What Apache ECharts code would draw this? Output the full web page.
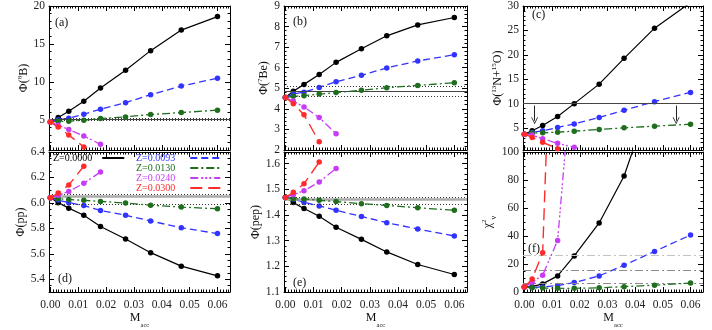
<!DOCTYPE html>
<html><head><meta charset="utf-8">
<script src="https://cdn.jsdelivr.net/npm/echarts@6/dist/echarts.min.js"></script>
<style>html,body{margin:0;padding:0;background:#fff}#c{width:712px;height:330px}</style>
</head><body><div id="c"></div>
<script>
// ---------------- data ----------------
const xValues = [0, 0.0028, 0.0066, 0.012, 0.018, 0.027, 0.036, 0.047, 0.06];
const seriesNames = ['Z=0.0000', 'Z=0.0093', 'Z=0.0130', 'Z=0.0240', 'Z=0.0300'];
const xTickLabels = [0, 0.01, 0.02, 0.03, 0.04, 0.05, 0.06];

// (a) Phi(8B)
const a_Z0000 = [4.7, 5.29, 6.11, 7.42, 9.17, 11.53, 14.11, 16.82, 18.6];
const a_Z0093 = [4.7, 4.98, 5.2, 5.72, 6.38, 7.25, 8.3, 9.43, 10.48];
const a_Z0130 = [4.7, 4.78, 4.8, 4.93, 5.16, 5.37, 5.68, 5.94, 6.25];
const a_Z0240 = [4.7, 4.28, 3.72, 2.84, 1.75];
const a_Z0300 = [4.7, 4.02, 2.97, 1.4];
// (b) Phi(7Be)
const b_Z0000 = [4.55, 4.86, 5.19, 5.67, 6.26, 6.92, 7.55, 8.08, 8.44];
const b_Z0093 = [4.55, 4.72, 4.81, 5.04, 5.32, 5.63, 5.99, 6.33, 6.63];
const b_Z0130 = [4.55, 4.61, 4.64, 4.72, 4.79, 4.9, 5.03, 5.14, 5.27];
const b_Z0240 = [4.55, 4.38, 4.09, 3.58, 2.79];
const b_Z0300 = [4.55, 4.25, 3.71, 2.4];
// (c) Phi(13N+15O)
const c_Z0000 = [3.75, 4.43, 5.52, 7.35, 10.0, 13.99, 19.28, 25.46, 30.7];
const c_Z0093 = [3.75, 4.1, 4.43, 5.12, 5.85, 7.15, 8.64, 10.41, 12.3];
const c_Z0130 = [3.75, 3.96, 4.02, 4.16, 4.36, 4.71, 5.04, 5.38, 5.79];
const c_Z0240 = [3.75, 3.55, 2.8, 1.86, 1.05];
const c_Z0300 = [3.75, 3.08, 2.07, 0.76];
// (d) Phi(pp)
const d_Z0000 = [6.04, 6.002, 5.959, 5.903, 5.814, 5.716, 5.609, 5.503, 5.427];
const d_Z0093 = [6.04, 6.022, 6.002, 5.979, 5.941, 5.903, 5.858, 5.805, 5.759];
const d_Z0130 = [6.04, 6.033, 6.027, 6.02, 6.012, 5.999, 5.982, 5.967, 5.954];
const d_Z0240 = [6.04, 6.06, 6.09, 6.154, 6.243];
const d_Z0300 = [6.04, 6.078, 6.141, 6.288];
// (e) Phi(pep)
const e_Z0000 = [1.468, 1.448, 1.425, 1.395, 1.352, 1.305, 1.256, 1.207, 1.168];
const e_Z0093 = [1.468, 1.462, 1.449, 1.435, 1.418, 1.394, 1.37, 1.345, 1.318];
const e_Z0130 = [1.468, 1.463, 1.462, 1.457, 1.452, 1.444, 1.437, 1.428, 1.418];
const e_Z0240 = [1.468, 1.479, 1.494, 1.528, 1.581];
const e_Z0300 = [1.468, 1.488, 1.521, 1.606];
// (f) chi2_nu
const f_Z0000 = [3.5, 3.8, 5.8, 11.5, 25.8, 49.3, 82.9, 146, 220];
const f_Z0093 = [3.5, 3.3, 3.6, 4.6, 6.7, 11.5, 19.1, 29, 40.7];
const f_Z0130 = [3.5, 3.0, 2.8, 2.7, 2.6, 3.0, 3.8, 4.9, 6.4];
const f_Z0240 = [3.5, 6.9, 12, 36.8, 177];
const f_Z0300 = [3.5, 9.2, 28, 330];

// reference levels
const a_ref = [5.05, 5.2, 4.9];
const b_ref = [4.84, 5.08, 4.6];
const c_ref = [10];
const c_arrowX = [0.0037, 0.0548];
const c_arrowY = [9.6, 6.5];
const d_ref = [6.05, 6.074, 5.99];
const e_ref = [1.456, 1.473, 1.438];
const f_ref = [26.2, 15.7, 6.0];

// y tick labels
const a_yTicks = [5, 10, 15, 20];
const b_yTicks = [2, 3, 4, 5, 6, 7, 8, 9];
const c_yTicks = [5, 10, 15, 20, 25, 30];
const d_yTicks = [5.4, 5.6, 5.8, 6.0, 6.2, 6.4];
const e_yTicks = [1.1, 1.2, 1.3, 1.4, 1.5, 1.6];
const f_yTicks = [0, 20, 40, 60, 80, 100];

// ---------------- styles ----------------
const SERIF = 'Liberation Serif';
const colors = ['#000000', '#3333ff', '#1e6e1e', '#c63cf5', '#ff2b2b'];
const dashes = ['solid', [7, 4], [8, 3, 2, 3], [8, 3, 2, 2, 2, 2, 2, 3], [12, 6]];
const widths = [1.2, 1.3, 1.3, 1.3, 1.4];

const X_MIN = -0.0005, X_MAX = 0.0645;

function rng(min, max, step) {
  const out = [];
  const n = Math.round((max - min) / step);
  for (let i = 0; i <= n; i++) out.push(+(min + i * step).toFixed(6));
  return out;
}
function minorOf(min, max, step, majors) {
  const start = Math.ceil(min / step - 1e-9) * step;
  return rng(start, max, step).filter(v => v >= min - 1e-9 && v <= max + 1e-9 && !majors.some(m => Math.abs(m - v) < step / 10));
}

const nameRich = {
  m: { fontFamily: SERIF, fontSize: 12, lineHeight: 14, color: '#111' },
  p: { fontFamily: SERIF, fontSize: 7, lineHeight: 7, verticalAlign: 'top', color: '#111' },
  b: { fontFamily: SERIF, fontSize: 8, lineHeight: 8, padding: [9, 0, 0, 0], verticalAlign: 'top', color: '#111' },
  s: { fontFamily: SERIF, fontSize: 6.5, lineHeight: 7, padding: [10, 0, 0, 0], verticalAlign: 'top', color: '#111' },
  mt: { fontFamily: SERIF, fontSize: 12, lineHeight: 12, verticalAlign: 'top', color: '#111' }
};

const panels = [
  { grid: { left: 49, top: 5, width: 181, height: 145 }, yMin: 1, yMax: 20, yTicks: a_yTicks, yMinor: 1, fmt: v => String(v),
    name: '{m|Φ(}{p|8}{m|B)}', nameGap: 17, data: [a_Z0000, a_Z0093, a_Z0130, a_Z0240, a_Z0300], letter: '(a)', lx: 55, ly: 17, bottom: false },
  { grid: { left: 284, top: 5, width: 183, height: 145 }, yMin: 2, yMax: 9, yTicks: b_yTicks, yMinor: 0.2, fmt: v => String(v),
    name: '{m|Φ(}{p|7}{m|Be)}', nameGap: 13, data: [b_Z0000, b_Z0093, b_Z0130, b_Z0240, b_Z0300], letter: '(b)', lx: 293, ly: 16, bottom: false },
  { grid: { left: 523, top: 5, width: 180, height: 145 }, yMin: 0.5, yMax: 30, yTicks: c_yTicks, yMinor: 1, fmt: v => String(v),
    name: '{m|Φ(}{p|13}{m|N+}{p|15}{m|O)}', nameGap: 18, data: [c_Z0000, c_Z0093, c_Z0130, c_Z0240, c_Z0300], letter: '(c)', lx: 532, ly: 9, bottom: false },
  { grid: { left: 49, top: 152, width: 181, height: 145 }, yMin: 5.3, yMax: 6.4, yTicks: d_yTicks, yMinor: 0.05, fmt: v => v.toFixed(1),
    name: '{m|Φ(pp)}', nameGap: 16, data: [d_Z0000, d_Z0093, d_Z0130, d_Z0240, d_Z0300], letter: '(d)', lx: 58, ly: 273, bottom: true },
  { grid: { left: 284, top: 152, width: 183, height: 145 }, yMin: 1.1, yMax: 1.645, yTicks: e_yTicks, yMinor: 0.02, fmt: v => v.toFixed(1),
    name: '{m|Φ(pep)}', nameGap: 21, data: [e_Z0000, e_Z0093, e_Z0130, e_Z0240, e_Z0300], letter: '(e)', lx: 293, ly: 277, bottom: true },
  { grid: { left: 523, top: 152, width: 180, height: 145 }, yMin: 0, yMax: 100, yTicks: f_yTicks, yMinor: 5, fmt: v => String(v),
    name: '{m|χ}{p|2}{b|ν}', nameGap: 22, data: [f_Z0000, f_Z0093, f_Z0130, f_Z0240, f_Z0300], letter: '(f)', lx: 528, ly: 243, bottom: true }
];

const tickLine = { color: '#000', width: 1 };
const labelStyle = { fontFamily: SERIF, fontSize: 11.5, color: '#222' };

const grid = [], xAxis = [], yAxis = [], series = [], graphic = [];
const xMinorVals = minorOf(X_MIN, X_MAX, 0.001, xTickLabels);

panels.forEach((p, i) => {
  grid.push(Object.assign({ containLabel: false }, p.grid));
  const xBase = { type: 'value', gridIndex: i, min: X_MIN, max: X_MAX, splitLine: { show: false } };
  xAxis.push(Object.assign({}, xBase, {
    position: 'bottom',
    axisLine: { show: true, onZero: false, lineStyle: tickLine },
    axisTick: { show: true, inside: true, length: 5, customValues: xTickLabels, lineStyle: tickLine },
    axisLabel: { show: p.bottom, customValues: xTickLabels, formatter: v => v.toFixed(2), margin: 7, ...labelStyle },
    name: p.bottom ? '{mt|M}{s|acc}' : '', nameLocation: 'middle', nameGap: 20,
    nameTextStyle: { rich: nameRich }
  }));
  xAxis.push(Object.assign({}, xBase, {
    position: 'top',
    axisLine: { show: true, onZero: false, lineStyle: tickLine },
    axisTick: { show: true, inside: true, length: 5, customValues: xTickLabels, lineStyle: tickLine },
    axisLabel: { show: false }
  }));
  ['bottom', 'top'].forEach(pos => xAxis.push(Object.assign({}, xBase, {
    position: pos,
    axisLine: { show: false, onZero: false },
    axisTick: { show: true, inside: true, length: 2.5, customValues: xMinorVals, lineStyle: tickLine },
    axisLabel: { show: false }
  })));

  const yBase = { type: 'value', gridIndex: i, min: p.yMin, max: p.yMax, splitLine: { show: false } };
  const yMinorVals = minorOf(p.yMin, p.yMax, p.yMinor, p.yTicks);
  yAxis.push(Object.assign({}, yBase, {
    position: 'left',
    axisLine: { show: true, onZero: false, lineStyle: tickLine },
    axisTick: { show: true, inside: true, length: 5, customValues: p.yTicks, lineStyle: tickLine },
    axisLabel: { show: true, customValues: p.yTicks, formatter: p.fmt, margin: 4, ...labelStyle },
    name: p.name, nameLocation: 'middle', nameGap: p.nameGap, nameRotate: 90,
    nameTextStyle: { rich: nameRich }
  }));
  yAxis.push(Object.assign({}, yBase, {
    position: 'right',
    axisLine: { show: true, onZero: false, lineStyle: tickLine },
    axisTick: { show: true, inside: true, length: 5, customValues: p.yTicks, lineStyle: tickLine },
    axisLabel: { show: false }
  }));
  ['left', 'right'].forEach(pos => yAxis.push(Object.assign({}, yBase, {
    position: pos,
    axisLine: { show: false, onZero: false },
    axisTick: { show: true, inside: true, length: 2.5, customValues: yMinorVals, lineStyle: tickLine },
    axisLabel: { show: false }
  })));

  const ml = [];
  if (i === 0 || i === 1) {
    const r = i === 0 ? a_ref : b_ref;
    ml.push({ yAxis: r[0], lineStyle: { color: '#444', width: 1, type: 'solid' } });
    ml.push({ yAxis: r[1], lineStyle: { color: '#333', width: 1, type: [1, 2] } });
    ml.push({ yAxis: r[2], lineStyle: { color: '#333', width: 1, type: [1, 2] } });
  } else if (i === 2) {
    ml.push({ yAxis: c_ref[0], lineStyle: { color: '#444', width: 1, type: 'solid' } });
    c_arrowX.forEach(x => ml.push([
      { coord: [x, c_arrowY[0]], symbol: 'none', lineStyle: { color: '#222', width: 1, type: 'solid' } },
      { coord: [x, c_arrowY[1]], symbol: 'path://M0,10 L5,0 L10,10 L8.8,10 L5,2.4 L1.2,10 Z', symbolSize: [7, 7] }
    ]));
  } else if (i === 3 || i === 4) {
    const r = i === 3 ? d_ref : e_ref;
    ml.push({ yAxis: r[0], lineStyle: { color: '#aaaaaa', width: 2.5, type: 'solid' } });
    ml.push({ yAxis: r[1], lineStyle: { color: '#333', width: 1, type: [1, 2] } });
    ml.push({ yAxis: r[2], lineStyle: { color: '#333', width: 1, type: [1, 2] } });
  } else {
    ml.push({ yAxis: f_ref[0], lineStyle: { color: '#c4c4c4', width: 1.2, type: [8, 3, 2, 3] } });
    ml.push({ yAxis: f_ref[1], lineStyle: { color: '#8c8c8c', width: 1.2, type: [8, 3, 2, 3] } });
    ml.push({ yAxis: f_ref[2], lineStyle: { color: '#8c8c8c', width: 1.2, type: [8, 3, 2, 3] } });
  }
  series.push({
    type: 'line', name: '_ref' + i, xAxisIndex: i * 4, yAxisIndex: i * 4,
    data: [[0.03, (p.yMin + p.yMax) / 2]], symbol: 'none', lineStyle: { opacity: 0 }, z: 1, silent: true,
    markLine: { silent: true, symbol: ['none', 'none'], label: { show: false }, animation: false, data: ml }
  });

  p.data.forEach((vals, k) => {
    series.push({
      type: 'line', name: seriesNames[k], xAxisIndex: i * 4, yAxisIndex: i * 4,
      data: vals.map((v, j) => [xValues[j], v]),
      symbol: 'circle', symbolSize: 5.5, showSymbol: true, clip: true,
      lineStyle: { color: colors[k], width: widths[k], type: dashes[k] },
      itemStyle: { color: colors[k] },
      z: 3 + k, animation: false
    });
  });

  graphic.push({ type: 'text', left: p.lx, top: p.ly, style: { text: p.letter, font: '12px "Liberation Serif"', fill: '#111' } });
});

const legendText = { fontFamily: SERIF, fontSize: 10 };
const option = {
  backgroundColor: '#fff',
  animation: false,
  grid, xAxis, yAxis, series, graphic,
  legend: [
    { left: 53, top: 153, padding: 0, itemGap: 0, itemWidth: 22, itemHeight: 9, align: 'right', selectedMode: false,
      itemStyle: { opacity: 0 },
      textStyle: Object.assign({ padding: [0, 5, 0, 0] }, legendText),
      data: [{ name: seriesNames[0], textStyle: { color: colors[0] } }] },
    { left: 136, top: 153, orient: 'vertical', padding: 0, itemGap: 0, itemWidth: 30, itemHeight: 9, align: 'right', selectedMode: false,
      itemStyle: { opacity: 0 },
      textStyle: Object.assign({ padding: [0, 10, 0, 0] }, legendText),
      data: [1, 2, 3, 4].map(k => ({ name: seriesNames[k], textStyle: { color: colors[k] } })) }
  ]
};
const chart = echarts.init(document.getElementById('c'), null, { renderer: 'canvas' });
chart.setOption(option);
</script></body></html>
